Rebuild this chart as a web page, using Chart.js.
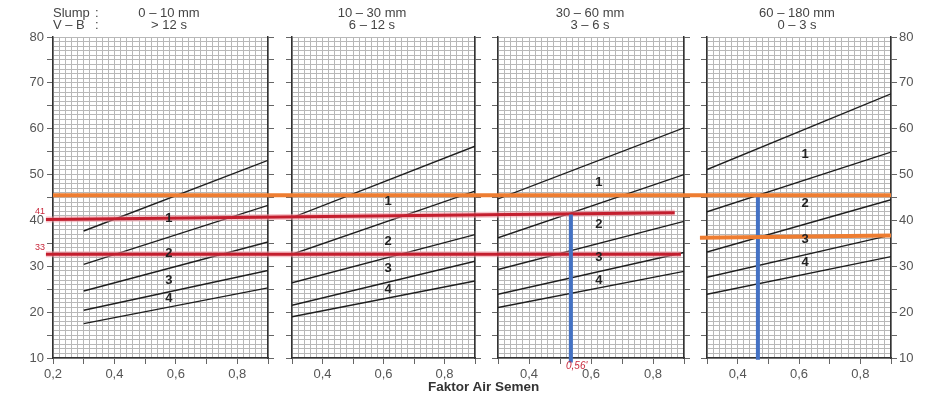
<!DOCTYPE html>
<html>
<head>
<meta charset="utf-8">
<script src="https://cdn.jsdelivr.net/npm/chart.js@4.4.1/dist/chart.umd.min.js"></script>
<style>
body { margin: 0; background: #fff; }
#wrap { position: relative; width: 931px; height: 401px; overflow: hidden; font-family: "Liberation Sans", Arial, sans-serif; color: #444; }
#wrap canvas { position: absolute; top: 0; }
.t { position: absolute; font-size: 13px; line-height: 13px; white-space: nowrap; }
.c { transform: translateX(-50%); }
.red { color: #c8283c; font-size: 9px; line-height: 9px; }
</style>
</head>
<body>
<div id="wrap">
  <canvas id="p0" width="280" height="401" style="left:0px"></canvas>
  <canvas id="p1" width="206" height="401" style="left:280px"></canvas>
  <canvas id="p2" width="209" height="401" style="left:486px"></canvas>
  <canvas id="p3" width="236" height="401" style="left:695px"></canvas>

  <div class="t" style="left:53px;top:6px">Slump</div>
  <div class="t" style="left:95px;top:6px">:</div>
  <div class="t" style="left:53px;top:18px">V – B</div>
  <div class="t" style="left:95px;top:18px">:</div>
  <div id="heads"></div>

  <div class="t" style="left:428px;top:380px;font-weight:bold;color:#333;font-size:13.5px">Faktor Air Semen</div>
  <div class="t red" style="left:35px;top:207px">41</div>
  <div class="t red" style="left:35px;top:243px">33</div>
  <div class="t red" style="left:566px;top:361px;font-style:italic;font-size:10px">0,56'</div>
</div>
<script>
// ---- data ----
const slumpText = ["0 – 10 mm", "10 – 30 mm", "30 – 60 mm", "60 – 180 mm"];
const vbText = ["> 12 s", "6 – 12 s", "3 – 6 s", "0 – 3 s"];
const headCenter = [169, 372, 590, 797];

const panelXMin = [0.2, 0.3, 0.3, 0.3];
const panelXMax = 0.9;
const yMin = 10, yMax = 80;

// each boundary line: value at x = 0.3 and x = 0.9
const curveX = [0.3, 0.9];
const panel1Lines = [[37.7, 53.1], [30.4, 43.3], [24.6, 35.3], [20.4, 29.1], [17.5, 25.3]];
const panel2Lines = [[40.6, 56.2], [32.6, 46.4], [26.4, 36.9], [21.5, 31.1], [19.0, 26.8]];
const panel3Lines = [[44.7, 60.2], [36.2, 50.0], [29.3, 39.8], [23.9, 33.0], [21.0, 28.9]];
const panel4Lines = [[51.1, 67.6], [41.9, 54.9], [33.1, 44.5], [27.6, 36.8], [23.9, 32.1]];
const panelLines = [panel1Lines, panel2Lines, panel3Lines, panel4Lines];

// zone numbers written between the lines
const zoneNames = ["1", "2", "3", "4"];
const zoneLabelX = [0.577, 0.615, 0.625, 0.62];
const zoneLabelY = [
  [40.4, 32.8, 26.9, 23.0],
  [44.1, 35.4, 29.5, 24.9],
  [48.3, 39.1, 31.9, 26.9],
  [54.4, 43.7, 35.9, 30.9]
];

// hand-drawn marks on top of the chart
const orangeTopY = 45.5;
const orangeTopX = [[0.2, 0.96], [0.24, 0.96], [0.24, 0.96], [0.24, 0.9]];
const redUpperX = [[0.177, 0.96], [0.24, 0.96], [0.24, 0.87]];
const redUpperY = [[40.2, 40.75], [40.75, 41.25], [41.25, 41.7]];
const redLowerY = 32.6;
const redLowerX = [[0.177, 0.96], [0.24, 0.96], [0.24, 0.89]];
const blueX = [null, null, 0.535, 0.466];
const blueY = [null, null, [41.3, 9.0], [45.5, 9.6]];
const orangeLowX = [0.277, 0.9];
const orangeLowY = [36.2, 36.7];

// chart area edges inside each canvas (left axis width, right axis width)
const leftW = [53, 12, 12, 12];
const rightW = [12, 11, 11, 40];

Chart.defaults.font.family = '"Liberation Sans", Arial, sans-serif';
Chart.defaults.font.size = 13;
Chart.defaults.color = "#444";

const heads = document.getElementById("heads");
slumpText.forEach((s, i) => {
  heads.innerHTML += `<div class="t c" style="left:${headCenter[i]}px;top:6px">${s.replace(">", "&gt;")}</div>`;
  heads.innerHTML += `<div class="t c" style="left:${headCenter[i]}px;top:18px">${vbText[i].replace(">", "&gt;")}</div>`;
});

const zoneLabelPlugin = {
  id: "zoneLabels",
  afterDatasetsDraw(chart, args, opts) {
    const { ctx, scales } = chart;
    ctx.save();
    ctx.font = 'bold 13px "Liberation Sans", Arial, sans-serif';
    ctx.fillStyle = "#222";
    ctx.textAlign = "center";
    ctx.textBaseline = "middle";
    opts.ys.forEach((v, k) => {
      ctx.fillText(zoneNames[k], scales.x.getPixelForValue(opts.x), scales.y.getPixelForValue(v));
    });
    ctx.restore();
  }
};

// order: higher number is painted first (underneath)
function seg(xs, ys, color, width, order) {
  return {
    data: xs.map((x, k) => ({ x, y: ys[k] })),
    showLine: true, pointRadius: 0, borderColor: color, borderWidth: width, clip: false, order
  };
}

const fmt = v => String(Math.round(v * 10) / 10).replace(".", ",");

function makeChart(i) {
  const datasets = panelLines[i].map(v => ({
    data: curveX.map((x, k) => ({ x, y: v[k] })),
    showLine: true, pointRadius: 0, borderColor: "#1e1e1e", borderWidth: 1.4, order: 10
  }));

  if (redUpperX[i]) {
    datasets.push(seg(redUpperX[i], redUpperY[i], "rgba(240,150,160,0.55)", 6, 5));
    datasets.push(seg(redUpperX[i], redUpperY[i], "#c41e2e", 3, 4));
    datasets.push(seg(redLowerX[i], [redLowerY, redLowerY], "rgba(240,150,160,0.55)", 6, 5));
    datasets.push(seg(redLowerX[i], [redLowerY, redLowerY], "#c41e2e", 3, 4));
  }
  datasets.push(seg(orangeTopX[i], [orangeTopY, orangeTopY], "#ee7d31", 4, 2));
  if (i === 3) datasets.push(seg(orangeLowX, orangeLowY, "#ee7d31", 4, 2));
  if (blueX[i] !== null) datasets.push(seg([blueX[i], blueX[i]], blueY[i], "#4472c4", 4, 3));

  const showLeft = i === 0, showRight = i === 3;

  return new Chart(document.getElementById("p" + i), {
    type: "scatter",
    data: { datasets },
    plugins: [zoneLabelPlugin],
    options: {
      responsive: false,
      animation: false,
      layout: { padding: { top: 37, bottom: 3, left: 0, right: 0 } },
      plugins: {
        legend: { display: false },
        tooltip: { enabled: false },
        zoneLabels: { x: zoneLabelX[i], ys: zoneLabelY[i] }
      },
      scales: {
        x: {
          type: "linear", position: "bottom", min: panelXMin[i], max: panelXMax,
          ticks: {
            stepSize: 0.1, autoSkip: false, maxRotation: 0, padding: 3, color: "#555",
            callback: v => (Math.round(v * 10) % 2 === 0 ? fmt(v) : "")
          },
          grid: { color: "#555", lineWidth: 1, tickLength: 6, tickColor: "#666" },
          border: { color: "#333", width: 1.5 },
          afterFit: s => { s.height = 40; }
        },
        xMinor: {
          type: "linear", position: "bottom", min: panelXMin[i], max: panelXMax, z: -1,
          ticks: { stepSize: 0.02, display: false },
          grid: { color: "#b8b8b8", lineWidth: 1, drawTicks: false },
          border: { display: false },
          afterFit: s => { s.height = 0; }
        },
        y: {
          type: "linear", position: "left", min: yMin, max: yMax,
          ticks: {
            display: showLeft, stepSize: 5, autoSkip: false, padding: 3, color: "#555",
            callback: v => (v % 10 === 0 ? v : "")
          },
          grid: { color: "#555", lineWidth: 1, tickLength: 6, tickColor: "#666" },
          border: { color: "#333", width: 1.5 },
          afterFit: s => { s.width = leftW[i]; }
        },
        yMinor: {
          type: "linear", position: "left", min: yMin, max: yMax, z: -1,
          ticks: { stepSize: 1, display: false },
          grid: { color: "#b8b8b8", lineWidth: 1, drawTicks: false },
          border: { display: false },
          afterFit: s => { s.width = 0; }
        },
        yRight: {
          type: "linear", position: "right", min: yMin, max: yMax,
          ticks: {
            display: showRight, stepSize: 5, autoSkip: false, padding: 2, color: "#555",
            callback: v => (v % 10 === 0 ? v : "")
          },
          grid: { drawOnChartArea: false, tickLength: 6, tickColor: "#666" },
          border: { color: "#333", width: 1.5 },
          afterFit: s => { s.width = rightW[i]; }
        }
      }
    }
  });
}

let charts = [];
for (let i = 0; i < 4; i++) charts.push(makeChart(i));
</script>
</body>
</html>
